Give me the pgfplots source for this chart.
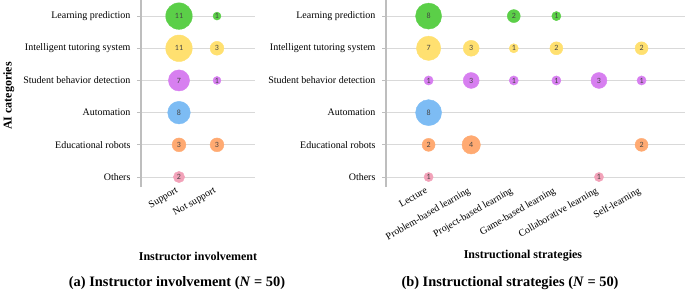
\documentclass[border=0pt]{standalone}
\usepackage{pgfplots}
\pgfplotsset{compat=1.18}
\usepackage{fontspec}
\setmainfont{Liberation Serif}
\newfontfamily\labfont{Carlito}
\definecolor{cG}{RGB}{91,207,72}
\definecolor{cY}{RGB}{255,224,112}
\definecolor{cP}{RGB}{215,127,240}
\definecolor{cB}{RGB}{125,188,244}
\definecolor{cO}{RGB}{255,170,114}
\definecolor{cK}{RGB}{242,162,185}
\definecolor{gridc}{RGB}{217,217,217}
\definecolor{axc}{RGB}{190,190,190}
\definecolor{labc}{RGB}{70,70,70}
% bubble: x, y, colour, radius (pt), value
\newcommand\bub[5]{%
  \addplot[only marks, mark=*, mark size=#4pt, color=#3, mark options={draw=#3, fill=#3}, forget plot] coordinates {(#1,#2)};
  \addplot[only marks, mark=text, text mark={#5}, text mark as node=true,
    text mark style={font=\labfont\fontsize{8}{9}\selectfont, text=labc, inner sep=0pt, anchor=center}, forget plot] coordinates {(#1,#2)};
}
\pgfplotsset{
  common/.style={
    scale only axis, clip=false,
    axis lines*=left,
    x axis line style={draw=none},
    y axis line style={draw=axc, line width=2.8pt},
    ymin=-0.31, ymax=5.5,
    ytick={0,...,5},
    yticklabels={Others,Educational robots,Automation,Student behavior detection,Intelligent tutoring system,Learning prediction},
    ymajorgrids, grid style={draw=gridc, line width=0.8pt},
    ytick style={draw=axc, line width=1pt},
    xtick style={draw=none},
    tick align=outside, major tick length=4pt,
    ticklabel style={font=\fontsize{10}{12}\selectfont},
    yticklabel style={xshift=-3pt},
    xticklabel style={rotate=30, anchor=north east, inner sep=1pt, yshift=7pt},
    label style={font=\bfseries\fontsize{12}{14}\selectfont},
  }
}
\begin{document}
\begin{tikzpicture}
\useasboundingbox (0,0) rectangle (685pt,292pt);
% (a) Instructor involvement
\begin{axis}[common, at={(141pt,105pt)}, anchor=south west,
  width=114pt, height=187pt, xmin=-1, xmax=2,
  xtick={0,1}, xticklabels={Support,Not support},
  xlabel={Instructor involvement},
  xlabel style={at={(axis description cs:0.5,0)}, anchor=center, yshift=-69pt},
  ylabel={AI categories},
  ylabel style={at={(axis description cs:-1.16,0.487)}, anchor=center, rotate=0},
]
\bub{0}{5}{cG}{13.27}{11}
\bub{1}{5}{cG}{4.0}{1}
\bub{0}{4}{cY}{13.27}{11}
\bub{1}{4}{cY}{6.93}{3}
\bub{0}{3}{cP}{10.58}{7}
\bub{1}{3}{cP}{4.0}{1}
\bub{0}{2}{cB}{11.31}{8}
\bub{0}{1}{cO}{6.93}{3}
\bub{1}{1}{cO}{6.93}{3}
\bub{0}{0}{cK}{5.66}{2}
\end{axis}
% (b) Instructional strategies
\begin{axis}[common, at={(386pt,105pt)}, anchor=south west,
  width=299pt, height=187pt, xmin=-1, xmax=6.02,
  xtick={0,...,5}, xticklabels={Lecture,Problem-based learning,Project-based learning,Game-based learning,Collaborative learning,Self-learning},
  xlabel={Instructional strategies},
  xlabel style={at={(axis description cs:0.458,0)}, anchor=center, yshift=-69pt},
]
\bub{0}{5}{cG}{13.01}{8}
\bub{2}{5}{cG}{6.5}{2}
\bub{3}{5}{cG}{4.6}{1}
\bub{0}{4}{cY}{12.17}{7}
\bub{1}{4}{cY}{7.97}{3}
\bub{2}{4}{cY}{4.6}{1}
\bub{3}{4}{cY}{6.5}{2}
\bub{5}{4}{cY}{6.5}{2}
\bub{0}{3}{cP}{4.6}{1}
\bub{1}{3}{cP}{7.97}{3}
\bub{2}{3}{cP}{4.6}{1}
\bub{3}{3}{cP}{4.6}{1}
\bub{4}{3}{cP}{7.97}{3}
\bub{5}{3}{cP}{4.6}{1}
\bub{0}{2}{cB}{13.01}{8}
\bub{0}{1}{cO}{6.5}{2}
\bub{1}{1}{cO}{9.2}{4}
\bub{5}{1}{cO}{6.5}{2}
\bub{0}{0}{cK}{4.6}{1}
\bub{4}{0}{cK}{4.6}{1}
\end{axis}
\node[font=\bfseries\fontsize{14.4}{16}\selectfont, anchor=center] at (177pt,9pt) {(a) Instructor involvement (\textit{N} = 50)};
\node[font=\bfseries\fontsize{14.4}{16}\selectfont, anchor=center] at (510pt,9pt) {(b) Instructional strategies (\textit{N} = 50)};
\end{tikzpicture}
\end{document}
